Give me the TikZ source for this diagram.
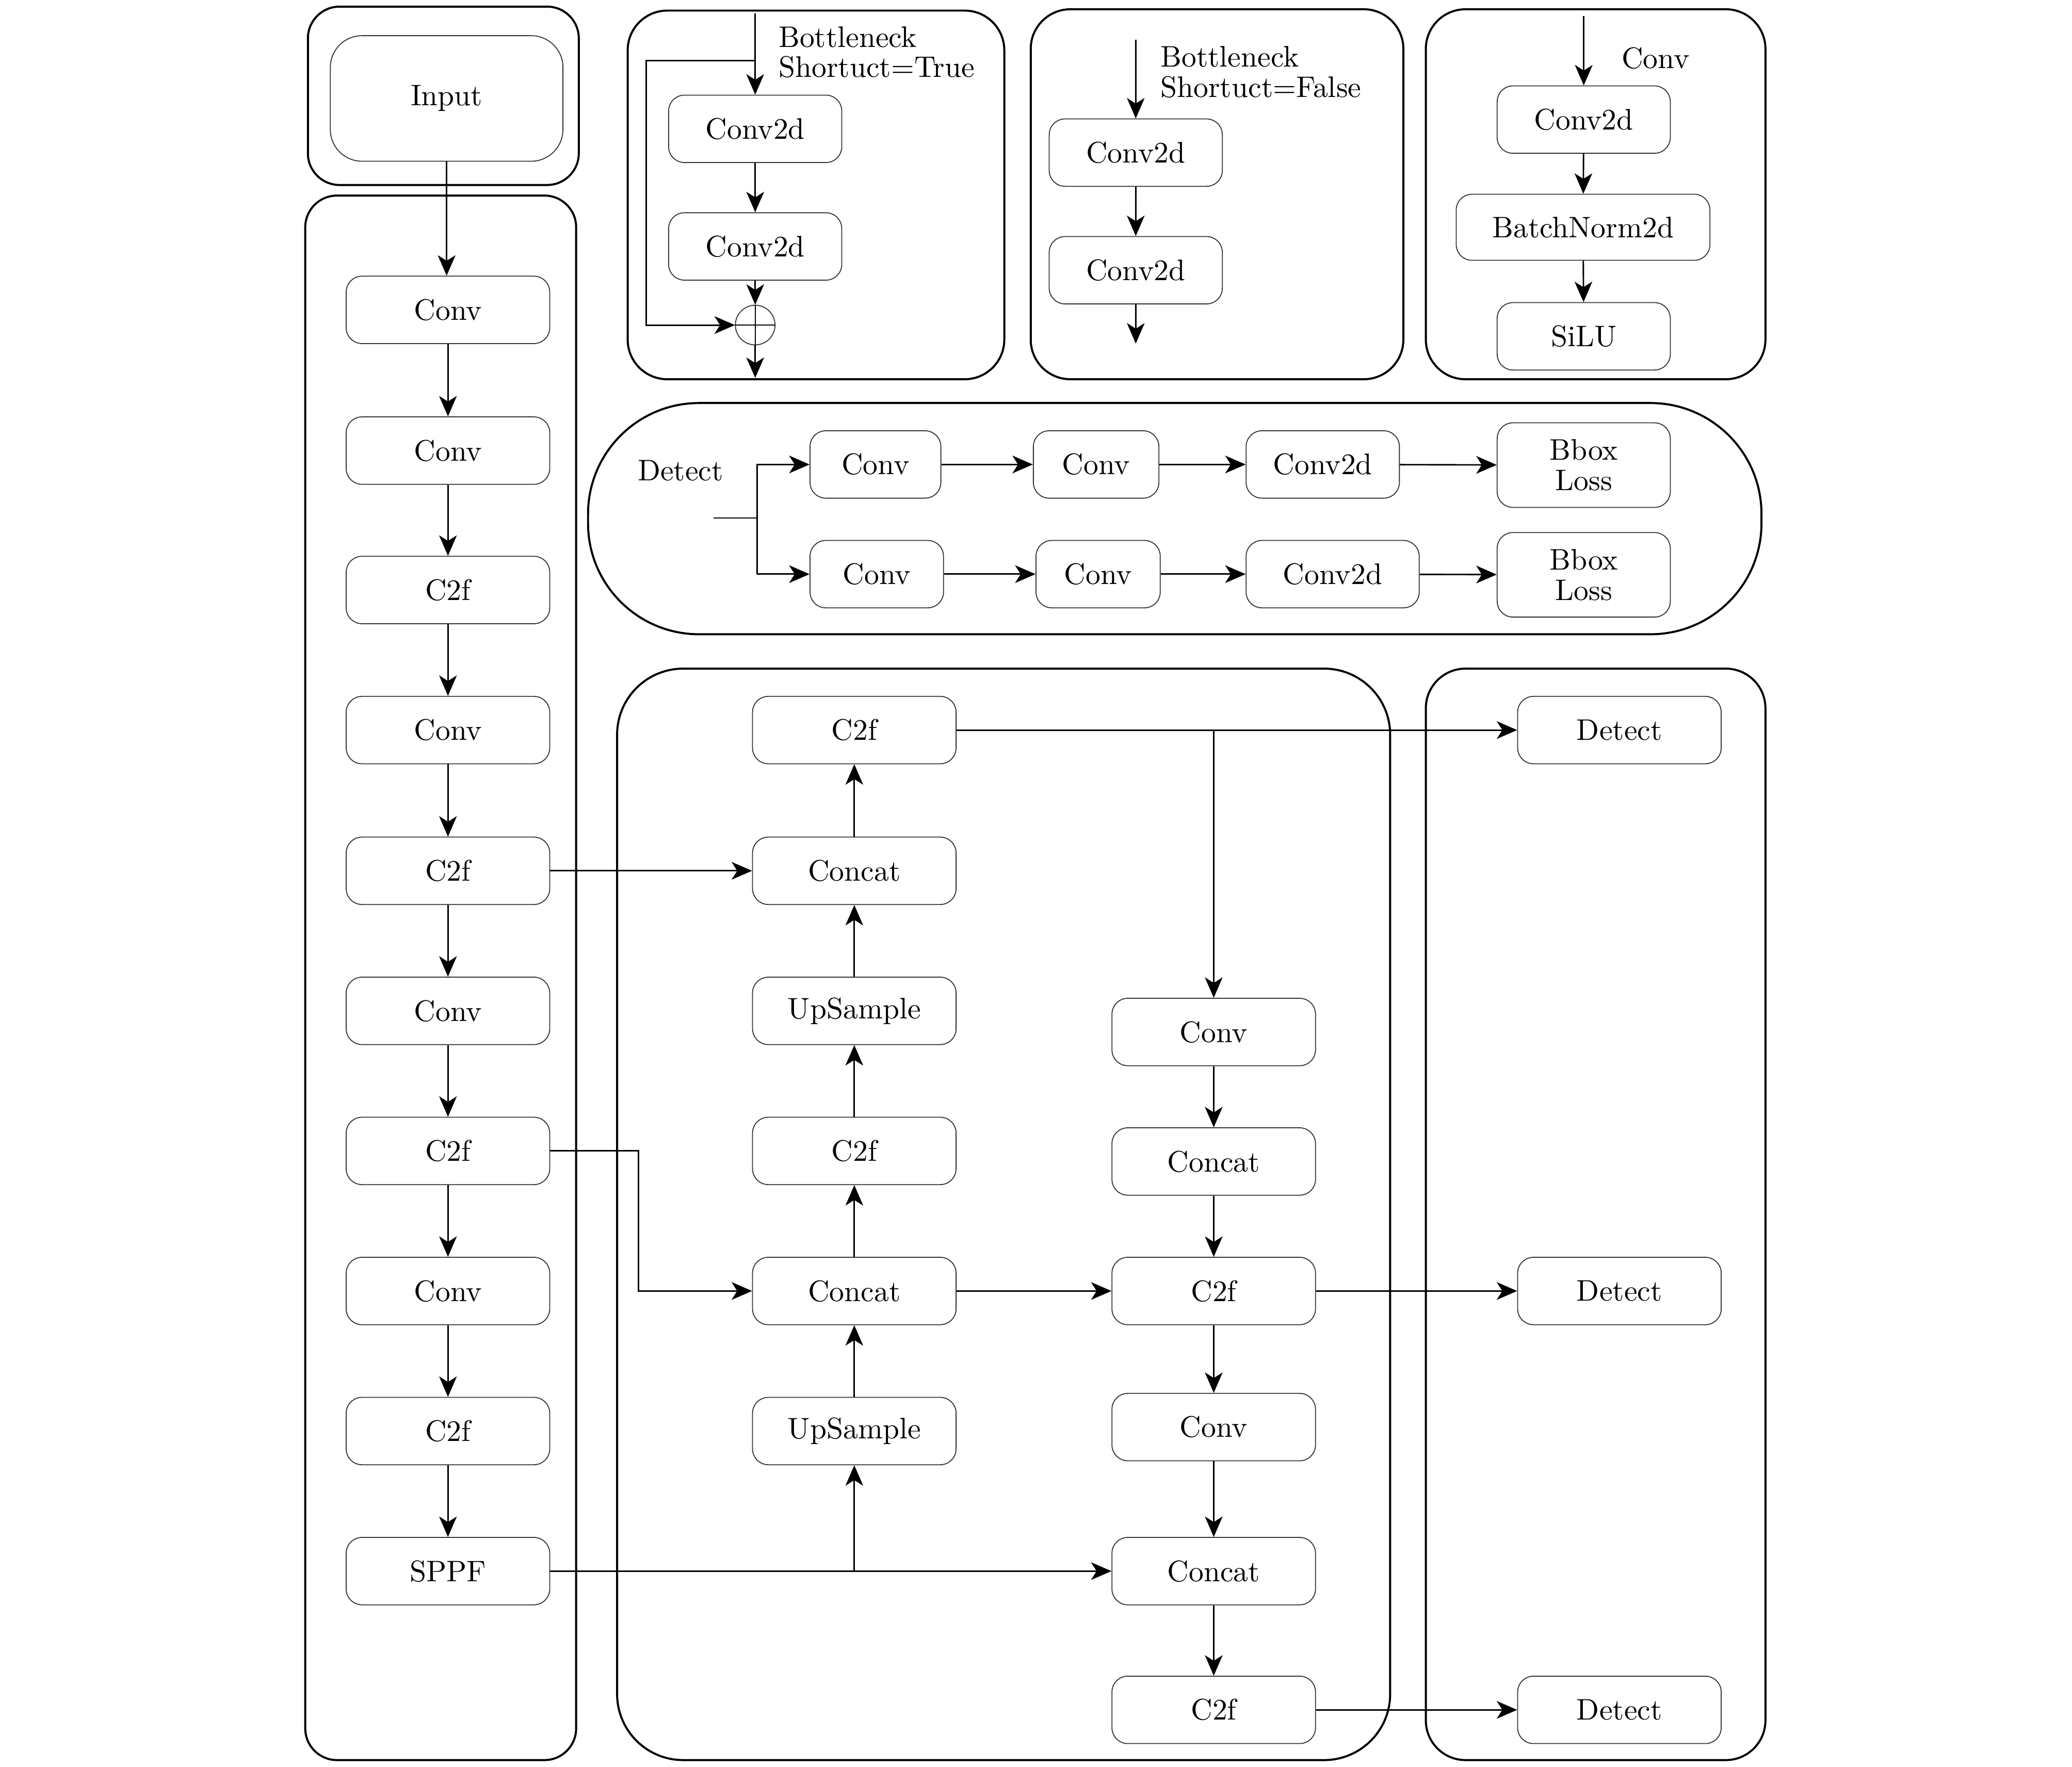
\documentclass[tikz,border=0pt]{standalone}
\usepackage{fontspec}
\setmainfont{lmroman10-regular}[Extension=.otf]
\usetikzlibrary{arrows.meta}
\begin{document}
\begin{tikzpicture}[x=0.025cm,y=-0.025cm,
  every node/.style={font=\fontsize{16}{16.3}\selectfont},
  blk/.style={draw=black!80, line width=0.5pt, rounded corners=0.3cm, minimum width=3.85cm, minimum height=1.275cm, inner sep=0pt, align=center},
  frame/.style={draw=black, line width=1.1pt},
  arr/.style={-{Stealth[length=11pt,width=9.5pt,inset=3pt]}, line width=0.8pt},
  ln/.style={line width=0.8pt},
  lbl/.style={anchor=west, align=left, inner sep=0pt}]
\useasboundingbox (0,0) rectangle (1568,1337);

% frames
\draw[frame, rounded corners=0.6cm] (233,5) rectangle (438,140);
\draw[frame, rounded corners=0.6cm] (231,148) rectangle (436,1332);
\draw[frame, rounded corners=0.75cm] (475,8) rectangle (760,287);
\draw[frame, rounded corners=0.75cm] (780,7) rectangle (1062,287);
\draw[frame, rounded corners=0.75cm] (1079,7) rectangle (1336,287);
\draw[frame, rounded corners=2.1cm] (445,305) rectangle (1333,480);
\draw[frame, rounded corners=1.25cm] (467,506) rectangle (1052,1332);
\draw[frame, rounded corners=0.75cm] (1079,506) rectangle (1336,1332);

% input
\node[blk, minimum width=4.4cm, minimum height=2.375cm, rounded corners=0.6cm] (in) at (338,74.5) {Input};

% backbone
\node[blk] (b1) at (339,234.5) {Conv};
\node[blk] (b2) at (339,341) {Conv};
\node[blk] (b3) at (339,446.5) {C2f};
\node[blk] (b4) at (339,552.5) {Conv};
\node[blk] (b5) at (339,659) {C2f};
\node[blk] (b6) at (339,765) {Conv};
\node[blk] (b7) at (339,871) {C2f};
\node[blk] (b8) at (339,977) {Conv};
\node[blk] (b9) at (339,1083) {C2f};
\node[blk] (b10) at (339,1189) {SPPF};
\draw[arr] (in.south) -- (in.south |- b1.north);
\foreach \a/\b in {b1/b2,b2/b3,b3/b4,b4/b5,b5/b6,b6/b7,b7/b8,b8/b9,b9/b10}
  \draw[arr] (\a) -- (\b);

% bottleneck true
\node[blk, minimum width=3.275cm] (t1) at (571.5,97.5) {Conv2d};
\node[blk, minimum width=3.275cm] (t2) at (571.5,186.5) {Conv2d};
\node[draw=black!80, line width=0.5pt, circle, minimum size=0.75cm, inner sep=0pt] (tp) at (571.5,246) {};
\draw[line width=0.5pt] (tp.north) -- (tp.south) (tp.west) -- (tp.east);
\coordinate (tin) at (571.5,10);
\coordinate (ts) at (571.5,46);
\coordinate (tc) at (489,246);
\coordinate (tout) at (571.5,286);
\draw[arr] (tin) -- (t1);
\draw[arr] (ts) -| (tc) -- (tp.west);
\draw[arr] (t1) -- (t2);
\draw[arr] (t2) -- (tp);
\draw[arr] (tp) -- (tout);
\node[lbl] (tl) at (589,39.5) {Bottleneck\\Shortuct=True};

% bottleneck false
\node[blk, minimum width=3.275cm] (f1) at (859.5,115.5) {Conv2d};
\node[blk, minimum width=3.275cm] (f2) at (859.5,204.5) {Conv2d};
\coordinate (fin) at (859.5,30);
\coordinate (fout) at (859.5,260);
\draw[arr] (fin) -- (f1);
\draw[arr] (f1) -- (f2);
\draw[arr] (f2) -- (fout);
\node[lbl] (fl) at (878,54.5) {Bottleneck\\Shortuct=False};

% conv
\node[blk, minimum width=3.275cm] (c1) at (1198.5,90.5) {Conv2d};
\node[blk, minimum width=4.8cm, minimum height=1.25cm] (c2) at (1198,172) {BatchNorm2d};
\node[blk, minimum width=3.275cm] (c3) at (1198.5,254.5) {SiLU};
\coordinate (cin) at (1198.5,12);
\draw[arr] (cin) -- (c1);
\draw[arr] (c1) -- (c2);
\draw[arr] (c2) -- (c3);
\node[lbl] (cl) at (1227,44) {Conv};

% detect
\node (dl) at (515,356) {Detect};
\coordinate (ds) at (540,392);
\coordinate (dj) at (573,392);
\node[blk, minimum width=2.475cm] (d11) at (662.5,351.5) {Conv};
\node[blk, minimum width=2.375cm] (d12) at (829.5,351.5) {Conv};
\node[blk, minimum width=2.9cm] (d13) at (1001,351.5) {Conv2d};
\node[blk, minimum width=3.275cm, minimum height=1.6cm] (d14) at (1198.5,352) {Bbox\\Loss};
\node[blk, minimum width=2.525cm] (d21) at (663.5,434.5) {Conv};
\node[blk, minimum width=2.35cm] (d22) at (831,434.5) {Conv};
\node[blk, minimum width=3.275cm] (d23) at (1008.5,434.5) {Conv2d};
\node[blk, minimum width=3.275cm, minimum height=1.6cm] (d24) at (1198.5,435) {Bbox\\Loss};
\draw[ln] (ds) -- (dj);
\draw[arr] (dj) |- (d11);
\draw[arr] (dj) |- (d21);
\draw[arr] (d11) -- (d12);
\draw[arr] (d12) -- (d13);
\draw[arr] (d13) -- (d14);
\draw[arr] (d21) -- (d22);
\draw[arr] (d22) -- (d23);
\draw[arr] (d23) -- (d24);

% neck
\node[blk] (n1) at (646.5,552.5) {C2f};
\node[blk] (n2) at (646.5,659) {Concat};
\node[blk] (n3) at (646.5,765) {UpSample};
\node[blk] (n4) at (646.5,871) {C2f};
\node[blk] (n5) at (646.5,977) {Concat};
\node[blk] (n6) at (646.5,1083) {UpSample};
\node[blk] (r1) at (918.5,781) {Conv};
\node[blk] (r2) at (918.5,879) {Concat};
\node[blk] (r3) at (918.5,977) {C2f};
\node[blk] (r4) at (918.5,1080) {Conv};
\node[blk] (r5) at (918.5,1189) {Concat};
\node[blk] (r6) at (918.5,1294) {C2f};

% head
\node[blk] (h1) at (1225.5,552.5) {Detect};
\node[blk] (h2) at (1225.5,977) {Detect};
\node[blk] (h3) at (1225.5,1294) {Detect};

\draw[arr] (n1) -- (h1);
\draw[arr] (r1 |- n1) -- (r1);
\draw[arr] (b5) -- (n2);
\foreach \a/\b in {n2/n1,n3/n2,n4/n3,n5/n4,n6/n5,r1/r2,r2/r3,r3/r4,r4/r5,r5/r6}
  \draw[arr] (\a) -- (\b);
\coordinate (k1) at (483,871);
\draw[arr] (b7.east) -- (k1) |- (n5.west);
\draw[arr] (b10) -- (r5);
\draw[arr] (n6 |- b10) -- (n6);
\draw[arr] (n5) -- (r3);
\draw[arr] (r3) -- (h2);
\draw[arr] (r6) -- (h3);
\end{tikzpicture}
\end{document}
